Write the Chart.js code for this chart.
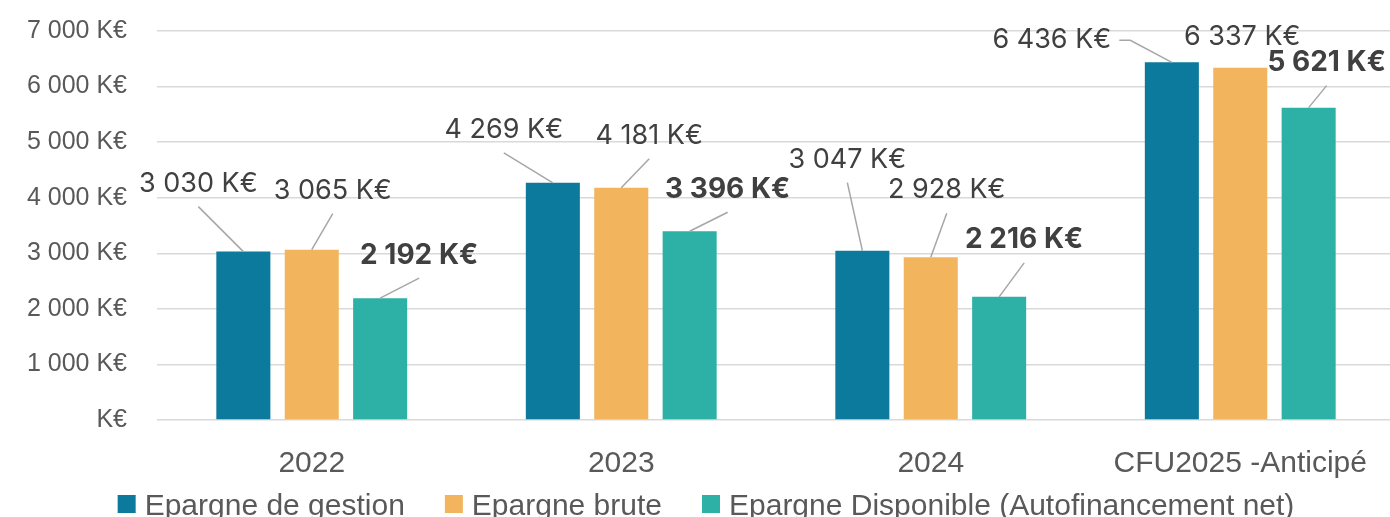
<!DOCTYPE html>
<html>
<head>
<meta charset="utf-8">
<script src="https://cdn.jsdelivr.net/npm/chart.js@4"></script>
<style>
  html, body { margin: 0; padding: 0; background: #fff; overflow: hidden; }
  #wrap { width: 1396px; height: 517px; position: relative; }
</style>
</head>
<body>
<div id="wrap"><canvas id="chart"></canvas></div>
<script>
// --- Data ---
const categories = ['2022', '2023', '2024', 'CFU2025 -Anticipé'];
const seriesNames = ['Epargne de gestion', 'Epargne brute', 'Epargne Disponible (Autofinancement net)'];
const epargneGestion = [3030, 4269, 3047, 6436];
const epargneBrute = [3065, 4181, 2928, 6337];
const epargneDisponible = [2192, 3396, 2216, 5621];
const yMax = 7000;
const yStep = 1000;

// label placement (offset from bar top, leader style)
const gestionLabelPos = [[-45, -68, 'bottom'], [-49, -53, 'bottom'], [-15, -91, 'bottom'], [-120, -22, 'side']];
const bruteLabelPos = [[21, -59, 'bottom'], [28, -52, 'bottom'], [16, -67, 'bottom'], [2, -31, 'none']];
const dispoLabelPos = [[39, -43, 'bottom'], [38, -42, 'bottom'], [25, -57, 'bottom'], [18, -45, 'bottom']];

const colors = ['#0B7A9D', '#F2B55E', '#2DB1A6'];
const axisFont = '"Liberation Sans", Arial, sans-serif';
const labelFont = 'Inter, "Open Sans", sans-serif';

function fmt(v) {
  return String(v).replace(/\B(?=(\d{3})+(?!\d))/g, ' ') + ' K€';
}

// --- Plugin: data labels with leader lines + legend ---
const labelsPlugin = {
  id: 'leaderLabels',
  afterDatasetsDraw(chart) {
    const ctx = chart.ctx;
    const allPos = [gestionLabelPos, bruteLabelPos, dispoLabelPos];
    ctx.save();
    chart.data.datasets.forEach((ds, di) => {
      const meta = chart.getDatasetMeta(di);
      meta.data.forEach((bar, i) => {
        const [dx, dy, mode] = allPos[di][i];
        const lx = bar.x + dx, ly = bar.y + dy;
        const text = fmt(ds.data[i]);
        ctx.font = (di === 2 ? '700 28px ' : '400 27px ') + labelFont;
        const w = ctx.measureText(text).width;
        ctx.strokeStyle = '#A6A6A6';
        ctx.lineWidth = 1.5;
        if (mode === 'bottom') {
          ctx.beginPath();
          ctx.moveTo(lx, ly + 23);
          ctx.lineTo(bar.x, bar.y);
          ctx.stroke();
        } else if (mode === 'side') {
          const sx = lx + w / 2 + 8;
          ctx.beginPath();
          ctx.moveTo(sx, ly);
          ctx.lineTo(sx + 11, ly);
          ctx.lineTo(bar.x, bar.y);
          ctx.stroke();
        }
        ctx.fillStyle = '#404040';
        ctx.textAlign = 'center';
        ctx.textBaseline = 'middle';
        ctx.fillText(text, lx, ly);
      });
    });

    // legend
    ctx.font = '30px ' + axisFont;
    ctx.textAlign = 'left';
    ctx.textBaseline = 'alphabetic';
    const box = 18, gapText = 9, gapItem = 40;
    const widths = seriesNames.map(n => ctx.measureText(n).width);
    const total = widths.reduce((a, w) => a + box + gapText + w, 0) + gapItem * (seriesNames.length - 1);
    let x = 706 - total / 2;
    seriesNames.forEach((n, k) => {
      ctx.fillStyle = colors[k];
      ctx.fillRect(x, 495, box, box);
      ctx.fillStyle = '#595959';
      ctx.fillText(n, x + box + gapText, 515);
      x += box + gapText + widths[k] + gapItem;
    });
    ctx.restore();
  }
};

new Chart(document.getElementById('chart'), {
  type: 'bar',
  data: {
    labels: categories,
    datasets: [epargneGestion, epargneBrute, epargneDisponible].map((d, k) => ({
      label: seriesNames[k],
      data: d,
      backgroundColor: colors[k],
      categoryPercentage: 0.663,
      barPercentage: 0.79
    }))
  },
  options: {
    responsive: true,
    maintainAspectRatio: false,
    animation: false,
    layout: { padding: { top: 31, right: 1, left: 0, bottom: 0 } },
    plugins: { legend: { display: false }, tooltip: { enabled: false } },
    scales: {
      x: {
        grid: { display: false },
        border: { display: false },
        ticks: { color: '#595959', font: { family: axisFont, size: 30 }, padding: 18, maxRotation: 0 },
        afterFit(scale) { scale.height = 97; scale.paddingLeft = 0; scale.paddingRight = 0; }
      },
      y: {
        min: 0,
        max: yMax,
        border: { display: false },
        grid: { color: '#D9D9D9', lineWidth: 1.5, drawTicks: false },
        ticks: {
          stepSize: yStep,
          color: '#595959',
          font: { family: axisFont, size: 25 },
          padding: 30,
          callback: v => v === 0 ? 'K€' : fmt(v)
        },
        afterFit(scale) { scale.width = 157; scale.paddingTop = 0; scale.paddingBottom = 0; }
      }
    }
  },
  plugins: [labelsPlugin]
});
</script>
</body>
</html>
